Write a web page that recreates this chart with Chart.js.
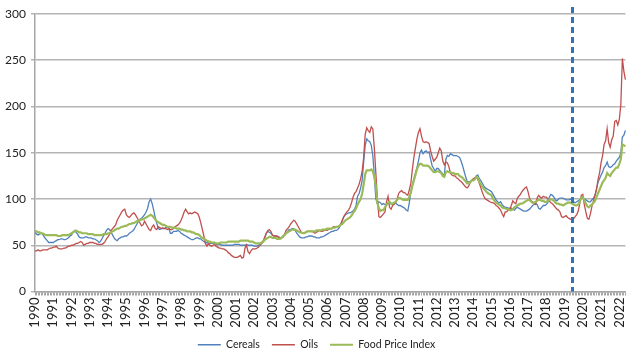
<!DOCTYPE html>
<html><head><meta charset="utf-8">
<script src="https://cdn.jsdelivr.net/npm/chart.js@4.4.1/dist/chart.umd.min.js"></script>
<style>html,body{margin:0;padding:0;background:#fff;}#wrap{width:643px;height:356px;}</style>
</head><body><div id="wrap"><canvas id="c" width="643" height="356"></canvas></div>
<script>
// Years on the axis (monthly data, Jan 1990 - May 2022)
const years = [1990,1991,1992,1993,1994,1995,1996,1997,1998,1999,2000,2001,2002,2003,2004,2005,2006,2007,2008,2009,2010,2011,2012,2013,2014,2015,2016,2017,2018,2019,2020,2021,2022];
const monthsInLastYear = 5;
const seriesNames = ['Cereals','Oils','Food Price Index'];
const yTicks = [0,50,100,150,200,250,300];
const markerMonth = '2019-06';

const cereals = [
64,62,61,62,63,62,59,57,55,53,53,53,
53,54,55,56,56,57,57,56,56,57,58,60,
61,64,66,64,62,59,58,58,58,59,59,58,
58,58,57,57,56,55,53,54,57,60,63,66,
68,67,64,61,58,56,55,57,58,59,59,60,
60,61,63,64,65,67,70,73,76,78,79,81,
83,86,90,97,100,95,88,80,74,68,67,68,
68,68,69,70,68,63,63,65,65,65,66,65,
63,62,61,60,59,58,57,56,56,57,58,58,
57,57,55,54,53,53,52,52,52,52,52,51,
51,51,51,50,50,50,50,50,50,50,50,51,
51,51,51,50,50,50,50,51,50,50,50,50,
49,49,49,50,50,52,54,58,63,65,64,63,
61,60,60,59,59,58,58,59,61,63,65,67,
67,68,68,66,63,61,59,58,58,58,59,59,
60,60,60,59,59,58,58,58,59,59,60,61,
62,63,64,65,65,66,66,67,69,73,77,81,
83,84,85,85,86,87,89,93,103,106,112,120,
140,158,165,163,162,158,147,125,100,95,97,96,
94,95,94,93,95,96,95,94,95,96,94,93,
93,92,91,90,88,87,96,108,115,122,128,134,
141,150,153,149,151,152,150,151,143,136,133,130,
133,133,131,129,127,126,143,147,146,149,148,147,
147,147,146,145,141,136,130,124,119,118,119,120,
121,122,125,126,122,120,117,114,112,111,110,109,
108,105,102,99,97,96,97,94,92,91,91,90,
90,90,89,88,90,91,90,89,88,87,87,87,
88,89,91,93,94,95,94,90,89,91,93,93,
94,96,102,105,104,102,99,98,100,101,101,101,
100,99,99,99,100,98,97,96,97,98,99,101,
102,100,99,98,97,97,99,101,104,111,118,122,
126,129,134,136,140,135,134,135,137,138,141,143,
145,150,167,169,174
];

const oils = [
44,44,45,44,44,45,45,45,45,46,47,47,
48,48,49,47,46,46,46,47,47,48,49,49,
50,50,51,52,52,53,54,53,50,51,52,52,
53,53,53,52,52,51,51,51,51,52,54,57,
59,62,66,68,70,72,77,80,83,86,88,89,
83,81,80,82,84,85,83,80,77,74,71,72,
76,73,70,67,66,70,72,68,67,70,69,68,
69,68,68,67,68,67,67,68,70,71,72,74,
77,81,86,89,86,84,85,84,85,86,85,84,
80,74,67,60,52,49,52,50,49,50,51,49,
48,47,47,46,46,45,44,42,41,39,38,37,
37,37,38,39,36,37,47,50,43,41,44,46,
46,46,47,48,51,52,55,59,63,66,67,65,
61,60,60,60,59,58,58,59,62,66,68,70,
73,75,77,76,73,70,67,64,63,63,64,65,
65,65,65,64,63,64,65,66,65,65,66,66,
66,67,68,68,70,70,70,70,71,73,77,81,
84,86,88,91,96,102,106,108,112,116,122,130,
145,170,177,174,172,178,176,155,128,100,81,80,
82,84,86,97,103,91,89,93,94,96,100,106,
108,109,107,107,105,104,110,117,132,145,155,165,
172,176,168,162,161,162,161,160,152,146,141,143,
145,150,155,152,141,137,140,139,135,128,126,125,
125,123,122,120,119,117,115,113,112,114,118,120,
122,123,124,121,117,112,107,103,100,99,98,97,
96,96,95,93,92,90,88,84,81,86,86,88,
89,93,98,96,95,101,103,105,108,110,112,113,
108,101,98,97,95,94,101,104,102,101,103,102,
102,100,98,96,95,93,91,89,88,86,81,80,
81,82,80,79,78,78,79,81,83,87,95,104,
105,94,86,79,78,84,92,98,104,110,121,128,
139,147,159,163,176,161,156,164,168,184,185,180,
186,202,252,238,229
];

const foodPriceIndex = [
65,65,64,64,63,63,62,61,61,61,61,61,
61,61,61,60,60,60,61,61,61,61,61,62,
63,64,65,66,65,64,64,63,63,63,63,62,
62,62,62,61,61,61,61,61,61,62,62,62,
63,63,64,65,66,67,68,68,69,70,70,71,
71,72,73,73,74,74,75,76,76,77,78,78,
79,80,81,82,83,82,80,78,76,75,74,73,
72,72,71,70,70,70,69,69,69,68,68,68,
67,67,66,66,65,65,65,64,64,63,62,62,
61,59,58,57,56,55,54,54,53,53,53,52,
52,52,53,53,53,53,53,54,54,54,54,54,
54,54,54,55,55,55,55,55,55,54,54,54,
53,52,52,52,52,53,54,56,57,58,59,59,
58,58,58,57,57,57,58,60,61,63,64,65,
66,67,67,67,66,65,64,64,63,63,64,65,
65,65,65,65,65,66,66,66,66,67,67,67,
68,68,68,68,69,69,70,70,71,72,73,75,
77,78,79,80,82,85,87,90,94,97,100,106,
116,127,131,131,131,132,130,124,114,96,90,87,
88,88,91,94,96,97,95,95,96,97,99,101,
101,100,99,99,99,99,102,107,114,120,126,132,
136,138,138,136,136,136,136,135,133,131,129,129,
130,130,129,128,125,124,129,130,129,129,128,128,
127,127,127,125,124,123,121,119,117,117,118,120,
120,121,124,123,119,116,113,111,109,107,106,105,
104,100,98,96,95,94,93,91,90,90,89,89,
88,88,89,91,92,93,94,95,95,96,97,98,
99,99,97,96,96,97,98,99,99,98,98,97,
97,98,99,100,99,98,96,95,95,94,94,93,
94,95,96,96,96,95,94,93,93,94,97,101,
102,99,95,92,91,93,94,96,98,102,106,110,
114,118,120,123,128,126,125,128,130,132,134,134,
138,143,159,158,157
];

// monthly category labels
const months = [];
years.forEach((y, yi) => {
  const n = yi === years.length - 1 ? monthsInLastYear : 12;
  for (let m = 1; m <= n; m++) months.push(y + '-' + String(m).padStart(2, '0'));
});

const FONT = 'Lato, "Liberation Sans", Arial, sans-serif';
const AXIS_GRAY = '#a6a6a6';

const markerPlugin = {
  id: 'marker',
  afterDatasetsDraw(chart) {
    const xs = chart.scales.x;
    const idx = months.indexOf(markerMonth);
    const x = Math.round(xs.getPixelForValue(idx)) + 0.5;
    const { top, bottom } = chart.chartArea;
    const c = chart.ctx;
    c.save();
    c.strokeStyle = '#2f74b5';
    c.lineWidth = 3;
    c.setLineDash([6, 4]);
    c.beginPath();
    c.moveTo(x, top - 7);
    c.lineTo(x, bottom);
    c.stroke();
    c.restore();
  }
};

new Chart(document.getElementById('c'), {
  type: 'line',
  data: {
    labels: months,
    datasets: [
      { label: seriesNames[0], data: cereals, borderColor: '#4f81bd', backgroundColor: '#4f81bd', borderWidth: 1.3, pointRadius: 0, tension: 0, order: 3 },
      { label: seriesNames[1], data: oils, borderColor: '#c0504d', backgroundColor: '#c0504d', borderWidth: 1.3, pointRadius: 0, tension: 0, order: 2 },
      { label: seriesNames[2], data: foodPriceIndex, borderColor: '#9bbb59', backgroundColor: '#9bbb59', borderWidth: 2.2, pointRadius: 0, tension: 0, order: 1 }
    ]
  },
  options: {
    responsive: false,
    animation: false,
    devicePixelRatio: 1,
    layout: { padding: { left: 0, right: 10, top: 14, bottom: -4 } },
    plugins: {
      tooltip: { enabled: false },
      legend: {
        position: 'bottom',
        labels: {
          usePointStyle: true, pointStyle: 'line', pointStyleWidth: 23,
          font: { family: FONT, size: 10.5 }, color: '#222', padding: 12,
          sort: (a, b) => a.datasetIndex - b.datasetIndex
        }
      }
    },
    scales: {
      x: {
        type: 'category',
        offset: false,
        grid: { display: true, drawOnChartArea: false, drawTicks: true, tickLength: 4, color: AXIS_GRAY, lineWidth: 1 },
        border: { color: AXIS_GRAY, width: 1.5 },
        ticks: {
          autoSkip: false, maxRotation: 90, minRotation: 90, padding: 2,
          font: { family: FONT, size: 13 }, color: '#222',
          callback: (v, i) => months[i].endsWith('-01') ? months[i].slice(0, 4) : ''
        },
        afterFit: s => { s.height = 36; }
      },
      y: {
        min: 0, max: 300,
        afterBuildTicks: s => { s.ticks = yTicks.map(v => ({ value: v })); },
        ticks: { font: { family: FONT, size: 12 }, color: '#222', padding: 5 },
        grid: { color: '#b4b4b4', lineWidth: 1.5, drawTicks: true, tickLength: 4 },
        border: { color: AXIS_GRAY, width: 1.5 },
        afterFit: s => { s.width = 35; }
      }
    }
  },
  plugins: [markerPlugin]
});
</script>
</body></html>
